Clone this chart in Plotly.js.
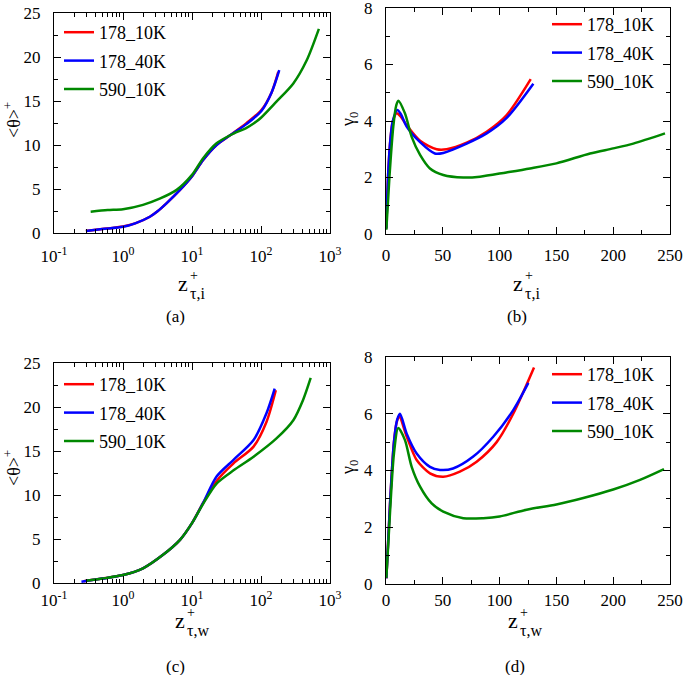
<!DOCTYPE html>
<html>
<head>
<meta charset="utf-8">
<script src="https://cdn.plot.ly/plotly-3.0.1.min.js"></script>
<style>html,body{margin:0;padding:0;background:#fff;}#chart{width:685px;height:675px;}</style>
</head>
<body>
<div id="chart"></div>
<script>
// ---------- Data ----------
var seriesNames = ['178_10K', '178_40K', '590_10K'];
var seriesColors = ['#ff0000', '#0000ff', '#008800'];

// (a) <theta>+ vs z+_{tau,i} (log x)
var a_x_178_10K = [0.29, 0.5, 1.0, 1.5, 2.45, 3.2, 4.3, 6.7, 9.9, 14.5, 22.7, 35.6, 62, 102, 143, 178];
var a_y_178_10K = [0.23, 0.45, 0.75, 1.1, 1.85, 2.5, 3.4, 4.9, 6.4, 8.3, 10.0, 11.1, 12.5, 14.0, 16.0, 18.3];
var a_x_178_40K = [0.29, 0.5, 1.0, 1.5, 2.45, 3.2, 4.3, 6.7, 9.9, 14.5, 22.7, 35.6, 62, 102, 143, 184];
var a_y_178_40K = [0.23, 0.45, 0.7, 1.1, 1.85, 2.5, 3.4, 4.9, 6.4, 8.3, 10.0, 11.1, 12.4, 13.9, 16.0, 18.5];
var a_x_590_10K = [0.34, 0.6, 1.0, 1.95, 3.4, 6.0, 10, 14.5, 22.7, 40, 60, 80, 100, 166, 294, 458, 690];
var a_y_590_10K = [2.42, 2.6, 2.7, 3.2, 3.9, 4.9, 6.6, 8.5, 10.2, 11.3, 11.9, 12.5, 13.1, 14.9, 17.0, 19.6, 23.2];

// (b) gamma_0 vs z+_{tau,i}
var b_x_178_10K = [0.3, 2, 4, 6, 9.4, 13, 18.2, 30, 44.6, 53.4, 71, 88.6, 106, 127.4];
var b_y_178_10K = [0.2, 2.2, 3.4, 4.0, 4.27, 4.15, 3.85, 3.3, 3.0, 3.0, 3.23, 3.62, 4.2, 5.48];
var b_x_178_40K = [0.3, 2, 4, 6, 9.9, 13, 18.2, 30, 43, 50.4, 71, 88.6, 106, 129.7];
var b_y_178_40K = [0.2, 2.2, 3.4, 4.0, 4.39, 4.25, 3.8, 3.25, 2.85, 2.87, 3.2, 3.56, 4.1, 5.32];
var b_x_590_10K = [0.3, 3, 6.4, 9, 10.8, 16.7, 22.6, 30, 38.7, 50.4, 68, 82.7, 106, 126.8, 150, 179.6, 200, 217.7, 245.6];
var b_y_590_10K = [0.15, 2.0, 3.8, 4.55, 4.72, 4.27, 3.44, 2.8, 2.32, 2.09, 2.0, 2.03, 2.18, 2.32, 2.5, 2.85, 3.03, 3.2, 3.56];

// (c) <theta>+ vs z+_{tau,w} (log x)
var c_x_178_10K = [0.27, 0.5, 1.0, 1.95, 3.8, 6.7, 10, 14.5, 22.7, 40, 78, 120, 164];
var c_y_178_10K = [0.2, 0.5, 0.9, 1.67, 3.2, 4.9, 6.8, 9.1, 11.6, 13.6, 15.5, 18.3, 21.9];
var c_x_178_40K = [0.25, 0.5, 1.0, 1.95, 3.8, 6.7, 10, 14.5, 22.7, 40, 78, 120, 158];
var c_y_178_40K = [0.15, 0.5, 0.9, 1.67, 3.2, 4.9, 6.8, 9.1, 12.1, 14.0, 16.25, 19.3, 22.1];
var c_x_590_10K = [0.29, 0.5, 1.0, 1.95, 3.8, 6.7, 10, 14.5, 22.7, 40, 78, 166, 294, 407, 525];
var c_y_590_10K = [0.25, 0.5, 0.9, 1.67, 3.2, 4.9, 6.8, 9.0, 11.3, 12.8, 14.35, 16.4, 18.5, 20.8, 23.3];

// (d) gamma_0 vs z+_{tau,w}
var d_x_178_10K = [0.3, 3.5, 7, 9.4, 11.7, 18.2, 27, 38.7, 50.4, 65, 79.8, 97.4, 112, 130.3];
var d_y_178_10K = [0.2, 2.8, 5.0, 5.7, 5.9, 5.2, 4.37, 3.9, 3.78, 3.96, 4.31, 5.0, 6.0, 7.63];
var d_x_178_40K = [0.3, 3.5, 7, 9.9, 12.3, 18.2, 27, 38.7, 47.5, 59, 76.8, 94.4, 112, 125.3];
var d_y_178_40K = [0.2, 2.8, 5.0, 5.8, 6.0, 5.3, 4.6, 4.13, 4.02, 4.07, 4.49, 5.19, 6.13, 7.09];
var d_x_590_10K = [0.3, 3.5, 7, 10.8, 16.7, 22.6, 30, 40.2, 50.4, 68, 85.6, 100, 123.8, 150, 173.7, 200, 223.6, 244.7];
var d_y_590_10K = [0.21, 2.5, 4.6, 5.5, 5.07, 4.13, 3.43, 2.84, 2.55, 2.32, 2.32, 2.38, 2.62, 2.8, 3.03, 3.33, 3.67, 4.05];

// tick labels
var logTickVals = [0.1, 1, 10, 100, 1000];
var logTickText = ['10<sup>-1</sup>', '10<sup>0</sup>', '10<sup>1</sup>', '10<sup>2</sup>', '10<sup>3</sup>'];
var panelLabels = ['(a)', '(b)', '(c)', '(d)'];

// ---------- Layout helpers ----------
var W = 685, H = 675;
function px(x) { return x / W; }
function py(y) { return 1 - y / H; }
var FONT = 'Liberation Serif';

var logMinor = [];
[0.1, 1, 10, 100].forEach(function (d) { for (var k = 2; k <= 9; k++) logMinor.push(+(d * k).toPrecision(3)); });

var panels = [
  {xs: [a_x_178_10K, a_x_178_40K, a_x_590_10K], ys: [a_y_178_10K, a_y_178_40K, a_y_590_10K], xa: 'x', ya: 'y', lg: 'legend'},
  {xs: [b_x_178_10K, b_x_178_40K, b_x_590_10K], ys: [b_y_178_10K, b_y_178_40K, b_y_590_10K], xa: 'x2', ya: 'y2', lg: 'legend2'},
  {xs: [c_x_178_10K, c_x_178_40K, c_x_590_10K], ys: [c_y_178_10K, c_y_178_40K, c_y_590_10K], xa: 'x3', ya: 'y3', lg: 'legend3'},
  {xs: [d_x_178_10K, d_x_178_40K, d_x_590_10K], ys: [d_y_178_10K, d_y_178_40K, d_y_590_10K], xa: 'x4', ya: 'y4', lg: 'legend4'}
];

var traces = [];
panels.forEach(function (p, pi) {
  for (var i = 0; i < 3; i++) {
    traces.push({
      x: p.xs[i], y: p.ys[i], type: 'scatter', mode: 'lines',
      name: seriesNames[i], xaxis: p.xa, yaxis: p.ya, legend: p.lg,
      legendgroup: 'g' + pi + '_' + i,
      line: {color: seriesColors[i], width: 2.5, shape: 'spline', smoothing: 0.8}
    });
  }
});

function baseAxis(extra) {
  var ax = {
    showline: true, linecolor: '#000', linewidth: 1, mirror: 'allticks',
    ticks: 'inside', ticklen: 7, tickwidth: 1, tickcolor: '#000',
    showgrid: false, zeroline: false, ticklabeloverflow: 'allow',
    tickfont: {family: FONT, size: 17, color: '#000'},
    fixedrange: true
  };
  for (var k in extra) ax[k] = extra[k];
  return ax;
}
function logX(dom, anchor, standoff) {
  return baseAxis({type: 'log', domain: dom, anchor: anchor, range: [-1, 3],
    tickmode: 'array', tickvals: logTickVals, ticktext: logTickText, ticklabelstandoff: standoff,
    minor: {ticks: 'inside', ticklen: 4, tickcolor: '#000', tickmode: 'array', tickvals: logMinor, showgrid: false}});
}
function linX(dom, anchor, standoff) {
  return baseAxis({domain: dom, anchor: anchor, range: [0, 250], dtick: 50, tick0: 0, ticklabelstandoff: standoff,
    minor: {ticks: 'inside', ticklen: 4, tickcolor: '#000', dtick: 25, showgrid: false}});
}
function yAx(dom, anchor, maxv, dt, mdt) {
  return baseAxis({domain: dom, anchor: anchor, range: [0, maxv], dtick: dt, tick0: 0, ticklabelstandoff: 9,
    minor: {ticks: 'inside', ticklen: 4, tickcolor: '#000', dtick: mdt, showgrid: false}});
}

var dxL = [px(54), px(330)], dxR = [px(386), px(670)];
var layout = {
  width: W, height: H, margin: {l: 0, r: 0, t: 0, b: 0},
  paper_bgcolor: '#fff', plot_bgcolor: '#fff', showlegend: true,
  font: {family: FONT, size: 18, color: '#000'},
  xaxis: logX(dxL, 'y', 8),
  yaxis: yAx([py(233), py(13)], 'x', 25, 5, 2.5),
  xaxis2: linX(dxR, 'y2', 6),
  yaxis2: yAx([py(234), py(8)], 'x2', 8, 2, 1),
  xaxis3: logX(dxL, 'y3', 2),
  yaxis3: yAx([py(583), py(363)], 'x3', 25, 5, 2.5),
  xaxis4: linX(dxR, 'y4', 1),
  yaxis4: yAx([py(584), py(357)], 'x4', 8, 2, 1),
  annotations: []
};

var legendPos = [[59, 14], [547, 6], [59, 366], [547, 356]];
['legend', 'legend2', 'legend3', 'legend4'].forEach(function (lg, i) {
  layout[lg] = {x: px(legendPos[i][0]), y: py(legendPos[i][1]), xanchor: 'left', yanchor: 'top',
    xref: 'paper', yref: 'paper', bgcolor: 'rgba(0,0,0,0)', borderwidth: 0,
    font: {family: FONT, size: 18, color: '#000'}, tracegroupgap: 2, traceorder: 'grouped'};
});

function ann(text, x, y, size, extra) {
  var a = {text: text, x: px(x), y: py(y), xref: 'paper', yref: 'paper', showarrow: false,
    xanchor: 'center', yanchor: 'middle', font: {family: FONT, size: size, color: '#000'}};
  if (extra) for (var k in extra) a[k] = extra[k];
  layout.annotations.push(a);
}
// x-axis titles: z with stacked + and subscript
var xt = [
  {zx: 183, zy: 283, sub: 'τ,i'},
  {zx: 518, zy: 283, sub: 'τ,i'},
  {zx: 180, zy: 620, sub: 'τ,w'},
  {zx: 513, zy: 620, sub: 'τ,w'}
];
xt.forEach(function (t) {
  ann('z', t.zx, t.zy, 22);
  ann('+', t.zx + 5, t.zy - 8, 14, {xanchor: 'left'});
  ann(t.sub, t.zx + 5, t.zy + 10, 16, {xanchor: 'left'});
});
// y-axis titles
ann('&lt;θ&gt;<sup>+</sup>', 12, 120, 18, {textangle: -90});
ann('γ<sub>0</sub>', 349, 120, 18, {textangle: -90});
ann('&lt;θ&gt;<sup>+</sup>', 12, 468, 18, {textangle: -90});
ann('γ<sub>0</sub>', 349, 468, 18, {textangle: -90});
// panel captions
ann(panelLabels[0], 175, 316, 17);
ann(panelLabels[1], 517, 316, 17);
ann(panelLabels[2], 175, 666, 17);
ann(panelLabels[3], 515, 666, 17);

Plotly.newPlot('chart', traces, layout, {staticPlot: true, displayModeBar: false});
</script>
</body>
</html>
